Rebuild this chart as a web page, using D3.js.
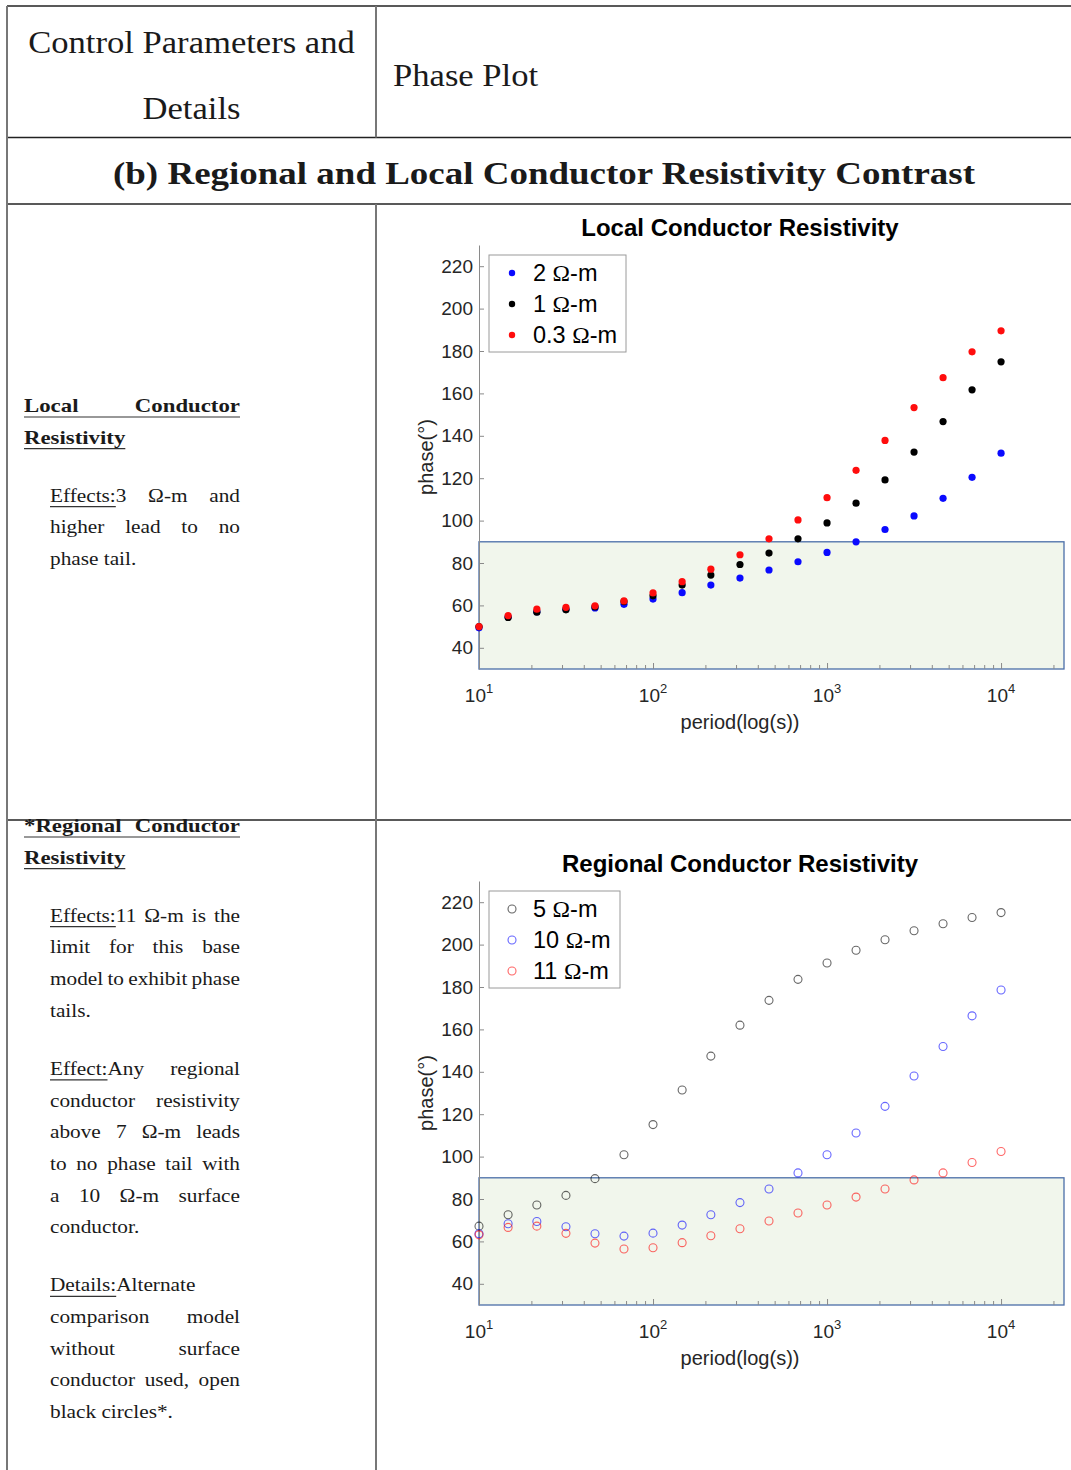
<!DOCTYPE html>
<html>
<head>
<meta charset="utf-8">
<script src="https://cdn.jsdelivr.net/npm/d3@7"></script>
<style>
  body { margin: 0; background: #fff; }
</style>
</head>
<body>
<svg id="fig" width="1071" height="1470"></svg>
<script>
// ---------- data ----------
const periods = [10, 14.7, 21.5, 31.6, 46.4, 68.1, 100, 147, 215, 316, 464, 681,
                 1000, 1468, 2154, 3162, 4642, 6813, 10000];

// local conductor resistivity (filled dots)
const local2  = [49.4, 54.5, 57.0, 58.2, 58.8, 60.5, 63.0, 66.0, 69.6, 72.9, 76.7, 80.6,
                 85.0, 90.0, 95.8, 102.2, 110.5, 120.4, 131.8];
const local1  = [50.0, 54.3, 56.8, 57.9, 59.3, 61.8, 64.5, 69.6, 74.3, 79.3, 84.7, 91.4,
                 98.9, 108.2, 119.2, 132.3, 146.7, 161.7, 174.9];
const local03 = [50.0, 55.2, 58.2, 59.1, 59.8, 62.1, 65.9, 71.2, 77.1, 83.9, 91.4, 100.3,
                 110.8, 123.7, 137.8, 153.3, 167.4, 179.6, 189.5];

// regional conductor resistivity (open circles)
const regional5  = [67.2, 72.6, 77.2, 81.7, 89.6, 100.9, 115.1, 131.4, 147.4, 162.0, 173.7, 183.6,
                    191.3, 197.3, 202.3, 206.5, 209.8, 212.8, 215.1];
const regional10 = [63.6, 68.3, 69.4, 66.9, 63.6, 62.5, 63.9, 67.7, 72.6, 78.3, 84.7, 92.3,
                    100.9, 111.1, 123.7, 138.0, 151.9, 166.4, 178.6];
const regional11 = [63.1, 66.6, 67.2, 63.8, 59.2, 56.4, 57.0, 59.4, 62.7, 66.0, 69.6, 73.4,
                    77.2, 80.9, 84.7, 89.0, 92.3, 97.2, 102.4];

const localLabels    = ["2", "1", "0.3"];
const regionalLabels = ["5", "10", "11"];

const yTicks = [40, 60, 80, 100, 120, 140, 160, 180, 200, 220];
const xDecades = [10, 100, 1000, 10000];
const xDomain = [10, 23000];
const yDomain = [30, 230];
const tailThreshold = 90;

const headerLeft  = ["Control Parameters and", "Details"];
const headerRight = "Phase Plot";
const sectionTitle = "(b) Regional and Local Conductor Resistivity Contrast";

// left column notes; null = paragraph break; j = justified; u = underline
const localNotes = [
  { t: "Local Conductor", b: true, j: true, u: "all" },
  { t: "Resistivity", b: true, u: "all" },
  null,
  { t: "Effects:3 Ω-m and", j: true, u: "Effects:" },
  { t: "higher lead to no", j: true },
  { t: "phase tail." }
];
const regionalNotes = [
  { t: "*Regional Conductor", b: true, j: true, u: "all" },
  { t: "Resistivity", b: true, u: "all" },
  null,
  { t: "Effects:11 Ω-m is the", j: true, u: "Effects:" },
  { t: "limit for this base", j: true },
  { t: "model to exhibit phase", j: true },
  { t: "tails." },
  null,
  { t: "Effect:Any regional", j: true, u: "Effect:" },
  { t: "conductor resistivity", j: true },
  { t: "above 7 Ω-m leads", j: true },
  { t: "to no phase tail with", j: true },
  { t: "a 10 Ω-m surface", j: true },
  { t: "conductor." },
  null,
  { t: "Details:Alternate", u: "Details:" },
  { t: "comparison model", j: true },
  { t: "without surface", j: true },
  { t: "conductor used, open", j: true },
  { t: "black circles*." }
];

// ---------- setup ----------
const svg = d3.select("#fig");
const SERIF = "'Liberation Serif', 'Times New Roman', serif";
const SANS  = "'Liberation Sans', Arial, Helvetica, sans-serif";
const INK = "#1a1a1a";

function measure(str, size, weight, family) {
  const t = svg.append("text")
    .attr("font-family", family || SERIF)
    .attr("font-size", size)
    .attr("font-weight", weight || "normal")
    .text(str);
  const w = t.node().getComputedTextLength();
  t.remove();
  return w;
}
// width of an inter-word space (a lone space collapses to zero)
function spaceWidth(size, weight) {
  return measure("n n", size, weight) - measure("nn", size, weight);
}

// serif text widened slightly to the proportions of a book face
function serifText(g, str, x, y, size, weight, k, anchor) {
  const w = measure(str, size, weight);
  g.append("text")
    .attr("x", x).attr("y", y)
    .attr("font-family", SERIF)
    .attr("font-size", size)
    .attr("font-weight", weight || "normal")
    .attr("fill", INK)
    .attr("text-anchor", anchor || "start")
    .attr("textLength", w * k)
    .attr("lengthAdjust", "spacingAndGlyphs")
    .text(str);
  return w * k;
}

// ---------- table frame ----------
const frame = svg.append("g");
const hLines = [6, 137.5, 204, 820];
hLines.forEach(yy => frame.append("line")
  .attr("x1", 7).attr("x2", 1071).attr("y1", yy).attr("y2", yy)
  .attr("stroke", "#222").attr("stroke-width", 1.6));
[[7, 6, 1470], [376, 6, 137.5], [376, 204, 1470]].forEach(([xx, y1, y2]) =>
  frame.append("line")
    .attr("x1", xx).attr("x2", xx).attr("y1", y1).attr("y2", y2)
    .attr("stroke", "#777").attr("stroke-width", 2));

// header cells
const hdr = svg.append("g");
serifText(hdr, headerLeft[0], 191.5, 52.5, 31, "normal", 1.116, "middle");
serifText(hdr, headerLeft[1], 191.5, 118.5, 31, "normal", 1.116, "middle");
serifText(hdr, headerRight, 393, 85.5, 31, "normal", 1.116, "start");
hdr.append("text")
  .attr("x", 544).attr("y", 184)
  .attr("font-family", SERIF).attr("font-size", 31).attr("font-weight", "bold")
  .attr("fill", INK).attr("text-anchor", "middle")
  .attr("textLength", 862).attr("lengthAdjust", "spacingAndGlyphs")
  .text(sectionTitle);

// ---------- notes column ----------
function drawNotes(notes, firstBaseline) {
  const g = svg.append("g");
  const step = 31.7, paraSkip = 58;
  let y = firstBaseline;
  let prevNull = false;
  notes.forEach((ln, i) => {
    if (ln === null) { prevNull = true; return; }
    if (i > 0) y += prevNull ? paraSkip : step;
    prevNull = false;
    const size = 19;
    const weight = ln.b ? "bold" : "normal";
    const k = ln.b ? 1.2 : 1.12;
    const x0 = ln.b ? 24 : 50, x1 = 240;
    const words = ln.t.split(" ");
    const widths = words.map(w => measure(w, size, weight) * k);
    const xs = [];
    if (ln.j && words.length > 1) {
      const gap = (x1 - x0 - d3.sum(widths)) / (words.length - 1);
      let cx = x0;
      widths.forEach(w => { xs.push(cx); cx += w + gap; });
    } else {
      const sp = spaceWidth(size, weight) * k;
      let cx = x0;
      widths.forEach(w => { xs.push(cx); cx += w + sp; });
    }
    words.forEach((w, wi) => {
      g.append("text")
        .attr("x", xs[wi]).attr("y", y)
        .attr("font-family", SERIF).attr("font-size", size).attr("font-weight", weight)
        .attr("fill", INK)
        .attr("textLength", widths[wi]).attr("lengthAdjust", "spacingAndGlyphs")
        .text(w);
    });
    if (ln.u) {
      let ux1;
      if (ln.u === "all") ux1 = xs[xs.length - 1] + widths[widths.length - 1];
      else ux1 = x0 + measure(ln.u, size, weight) * k;
      g.append("line")
        .attr("x1", x0).attr("x2", ux1)
        .attr("y1", y + 5).attr("y2", y + 5)
        .attr("stroke", "#333").attr("stroke-width", 1.2);
    }
  });
}
drawNotes(localNotes, 412);
drawNotes(regionalNotes, 832);

// ---------- phase panels ----------
function drawPanel(cfg) {
  const { top, bottom, title, series, labels, filled } = cfg;
  const left = 479, right = 1064;
  const x = d3.scaleLog().domain(xDomain).range([left, right]);
  const y = d3.scaleLinear().domain(yDomain).range([bottom, top]);
  const g = svg.append("g");

  // phase-tail threshold band
  g.append("rect")
    .attr("x", x(xDomain[0])).attr("y", y(tailThreshold))
    .attr("width", x(xDomain[1]) - x(xDomain[0]))
    .attr("height", y(yDomain[0]) - y(tailThreshold))
    .attr("fill", "#f1f6ec").attr("stroke", "#4a6ea8").attr("stroke-width", 1.3);

  // y axis
  const ya = g.append("g").attr("transform", `translate(${left},0)`)
    .call(d3.axisLeft(y).tickValues(yTicks).tickSizeInner(-5).tickSizeOuter(0).tickPadding(6));
  ya.select(".domain").attr("stroke", "#8a8a8a").attr("stroke-width", 1);
  ya.selectAll(".tick line").attr("stroke", "#8a8a8a");
  ya.selectAll(".tick text")
    .attr("font-family", SANS).attr("font-size", 19).attr("fill", "#262626");

  // x axis ticks (minor + decades), pointing into the plot
  const minor = xDecades.concat([xDomain[1]]).flatMap(d =>
    [2, 3, 4, 5, 6, 7, 8, 9].map(m => m * d)).filter(v => v < xDomain[1] && v > xDomain[0]);
  const xa = g.append("g").attr("transform", `translate(0,${bottom})`)
    .call(d3.axisBottom(x).tickValues(xDecades.concat(minor)).tickSizeInner(-4)
      .tickSizeOuter(0).tickFormat(""));
  xa.select(".domain").remove();
  xa.selectAll(".tick line").attr("stroke", "#8a8a8a")
    .filter(d => xDecades.includes(d)).attr("y2", -6);

  // decade labels
  xDecades.forEach(d => {
    const t = g.append("text")
      .attr("x", x(d)).attr("y", bottom + 33)
      .attr("text-anchor", "middle")
      .attr("font-family", SANS).attr("font-size", 19).attr("fill", "#262626");
    t.append("tspan").text("10");
    t.append("tspan").attr("dy", -9).attr("font-size", 13).text(String(Math.round(Math.log10(d))));
  });

  // axis labels and title
  g.append("text")
    .attr("x", 740).attr("y", bottom + 60)
    .attr("text-anchor", "middle")
    .attr("font-family", SANS).attr("font-size", 20).attr("fill", "#262626")
    .text("period(log(s))");
  g.append("text")
    .attr("transform", `translate(433,${(top + bottom) / 2}) rotate(-90)`)
    .attr("text-anchor", "middle")
    .attr("font-family", SANS).attr("font-size", 20).attr("fill", "#262626")
    .text("phase(°)");
  g.append("text")
    .attr("x", 740).attr("y", top - 9)
    .attr("text-anchor", "middle")
    .attr("font-family", SANS).attr("font-size", 24).attr("font-weight", "bold")
    .attr("fill", "#000")
    .text(title);

  // markers
  series.forEach(s => {
    const pts = g.append("g").selectAll("circle")
      .data(periods.map((p, i) => ({ p, v: s.values[i] })))
      .join("circle")
      .attr("cx", d => x(d.p)).attr("cy", d => y(d.v));
    if (filled) {
      pts.attr("r", 3.6).attr("fill", s.color);
    } else {
      pts.attr("r", 4).attr("fill", "none").attr("stroke", s.color)
        .attr("stroke-opacity", 0.6).attr("stroke-width", 1.1);
    }
  });

  // legend
  const lg = g.append("g");
  const lgTop = top + 10, rowH = 31;
  lg.append("rect")
    .attr("x", 489).attr("y", lgTop)
    .attr("width", cfg.legendWidth).attr("height", 97)
    .attr("fill", "#fff").attr("stroke", "#9a9a9a").attr("stroke-width", 1);
  series.forEach((s, r) => {
    const cy = lgTop + 18 + r * rowH;
    const m = lg.append("circle").attr("cx", 512).attr("cy", cy);
    if (filled) m.attr("r", 3.2).attr("fill", s.color);
    else m.attr("r", 4).attr("fill", "none").attr("stroke", s.color)
      .attr("stroke-opacity", 0.6).attr("stroke-width", 1.1);
    const t = lg.append("text")
      .attr("x", 533).attr("y", cy + 8)
      .attr("font-family", SANS).attr("font-size", 23.5).attr("fill", "#000");
    t.append("tspan").text(labels[r] + " ");
    t.append("tspan").attr("font-family", SERIF).text("Ω");
    t.append("tspan").text("-m");
  });
}

drawPanel({
  top: 245, bottom: 669,
  title: "Local Conductor Resistivity",
  filled: true,
  labels: localLabels,
  legendWidth: 137,
  series: [
    { values: local2,  color: "#0a0aff" },
    { values: local1,  color: "#000000" },
    { values: local03, color: "#ff0d0d" }
  ]
});

drawPanel({
  top: 881, bottom: 1305,
  title: "Regional Conductor Resistivity",
  filled: false,
  labels: regionalLabels,
  legendWidth: 131,
  series: [
    { values: regional5,  color: "#000000" },
    { values: regional10, color: "#0000ff" },
    { values: regional11, color: "#ff0000" }
  ]
});
</script>
</body>
</html>
